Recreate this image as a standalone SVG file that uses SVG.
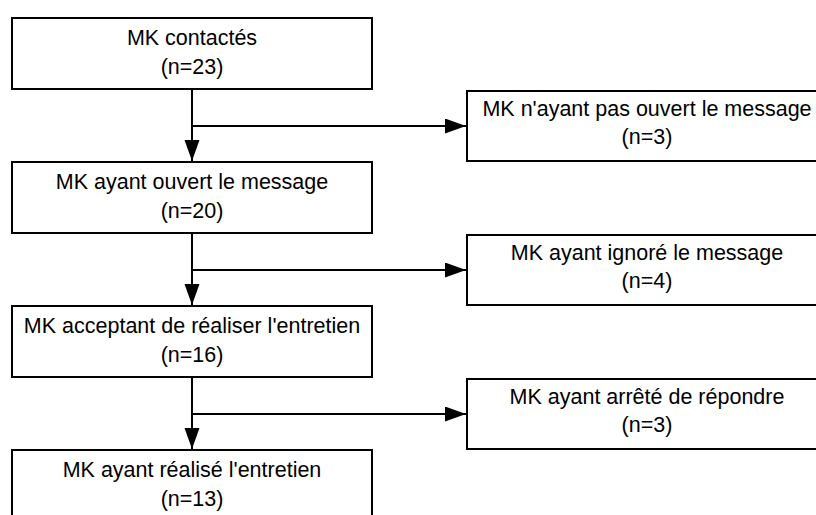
<svg xmlns="http://www.w3.org/2000/svg" width="816" height="515" viewBox="0 0 816 515">
<style>
.box{fill:#fff;stroke:#000;stroke-width:2}
.t{font-family:"Liberation Sans",Arial,sans-serif;font-size:21.5px;fill:#000;text-anchor:middle}
.c{stroke:#000;stroke-width:2;fill:none}
</style>
<defs>
<marker id="ah" markerUnits="userSpaceOnUse" markerWidth="22" markerHeight="16" refX="21" refY="7.5" orient="auto">
<path d="M0,0 L21,7.5 L0,15 Z" fill="#000"/>
</marker>
</defs>
<rect width="816" height="515" fill="#fff"/>
<g id="connectors">
<line class="c" x1="192" y1="89" x2="192" y2="161" marker-end="url(#ah)"/>
<line class="c" x1="192" y1="126" x2="466" y2="126" marker-end="url(#ah)"/>
<line class="c" x1="192" y1="233" x2="192" y2="305" marker-end="url(#ah)"/>
<line class="c" x1="192" y1="270" x2="466" y2="270" marker-end="url(#ah)"/>
<line class="c" x1="192" y1="377" x2="192" y2="449" marker-end="url(#ah)"/>
<line class="c" x1="192" y1="414" x2="466" y2="414" marker-end="url(#ah)"/>
</g>
<g id="n1">
<rect class="box" x="12" y="18" width="360" height="71"/>
<text class="t" x="192" y="45">MK contactés</text>
<text class="t" x="192" y="74">(n=23)</text>
</g>
<g id="n2">
<rect class="box" x="12" y="162" width="360" height="71"/>
<text class="t" x="192" y="189">MK ayant ouvert le message</text>
<text class="t" x="192" y="218">(n=20)</text>
</g>
<g id="n3">
<rect class="box" x="12" y="306" width="360" height="71"/>
<text class="t" x="192" y="333">MK acceptant de réaliser l'entretien</text>
<text class="t" x="192" y="362">(n=16)</text>
</g>
<g id="n4">
<rect class="box" x="12" y="450" width="360" height="71"/>
<text class="t" x="192" y="477">MK ayant réalisé l'entretien</text>
<text class="t" x="192" y="506">(n=13)</text>
</g>
<g id="r1">
<rect class="box" x="467" y="91" width="360" height="70"/>
<text class="t" x="647" y="116">MK n'ayant pas ouvert le message</text>
<text class="t" x="647" y="144">(n=3)</text>
</g>
<g id="r2">
<rect class="box" x="467" y="235" width="360" height="70"/>
<text class="t" x="647" y="260">MK ayant ignoré le message</text>
<text class="t" x="647" y="288">(n=4)</text>
</g>
<g id="r3">
<rect class="box" x="467" y="379" width="360" height="70"/>
<text class="t" x="647" y="404">MK ayant arrêté de répondre</text>
<text class="t" x="647" y="432">(n=3)</text>
</g>
</svg>
